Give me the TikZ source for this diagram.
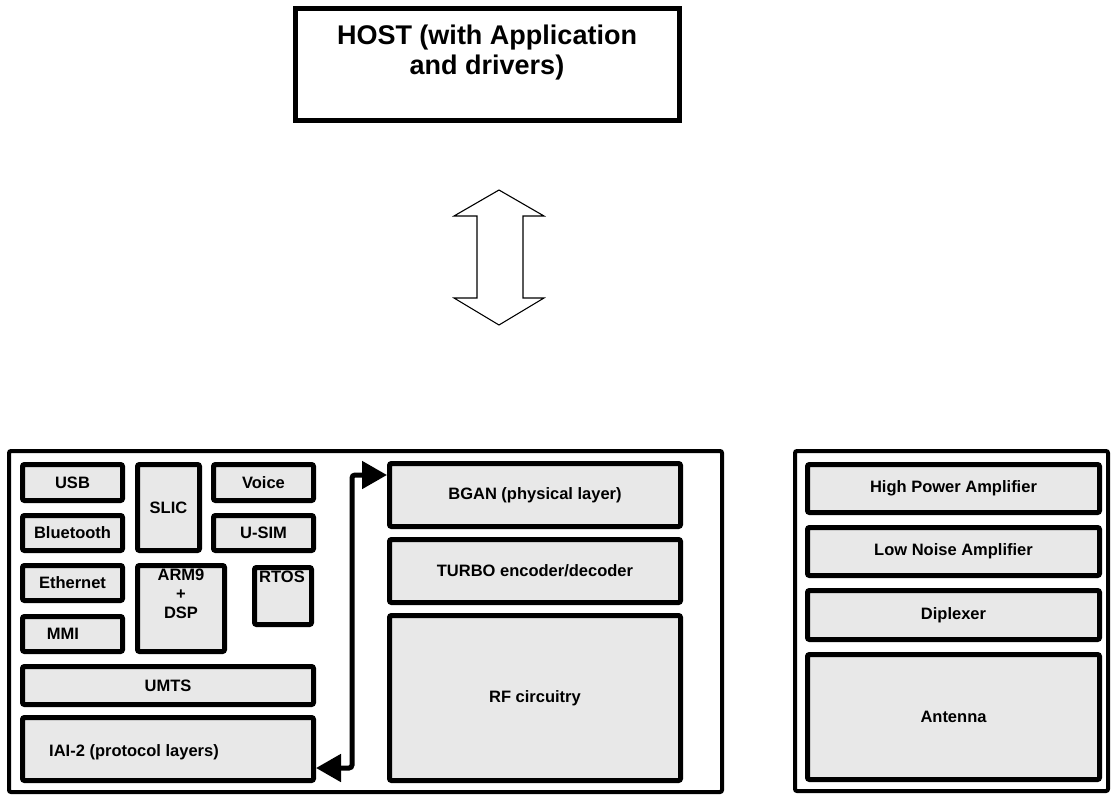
\documentclass[tikz,border=0pt]{standalone}
\usepackage{fontspec}
\setmainfont{Liberation Sans}
\usetikzlibrary{arrows.meta}
\tikzset{
  blk/.style={draw, line width=5pt, rounded corners=2pt, fill=black!9,
    inner sep=0pt, font=\fontsize{16.5}{19}\selectfont\bfseries, align=center},
  frame/.style={draw, line width=4pt, rounded corners=2pt, fill=white, inner sep=0pt},
  hostbox/.style={draw, line width=5pt, fill=white, inner sep=0pt},
  lbl/.style={inner sep=0pt, font=\fontsize{16.5}{19}\selectfont\bfseries, align=center},
  bus/.style={line width=5pt, rounded corners=3pt,
    {Triangle[length=25pt,width=27pt]}-{Triangle[length=25pt,width=27pt]}},
  hollow/.style={draw, line width=1.1pt, fill=white, line join=miter}
}
\begin{document}
\begin{tikzpicture}[x=1pt,y=-1pt]
\useasboundingbox (0,0) rectangle (1112,806);

% host computer
\node[hostbox, minimum width=384pt, minimum height=112pt] (host) at (487.5,64.5) {};
\node[lbl, font=\fontsize{27}{30}\selectfont\bfseries] (hosttext) at (487,53)
  {HOST (with Application\\and drivers)};

% hollow double arrow between host and terminal
\draw[hollow] (499,190) -- (544,216) -- (523,216) -- (523,298) -- (544,298)
  -- (499,325) -- (454,298) -- (477,298) -- (477,216) -- (454,216) -- cycle;

% terminal frames
\node[frame, minimum width=713pt, minimum height=341pt] (term) at (365.5,621.5) {};
\node[frame, minimum width=313pt, minimum height=340pt] (rfu) at (951.5,621) {};

% interfaces and processing
\node[blk, minimum width=100pt, minimum height=36pt] (usb) at (72.5,482.5) {USB};
\node[blk, minimum width=100pt, minimum height=35pt] (bt) at (72.5,533) {Bluetooth};
\node[blk, minimum width=100pt, minimum height=35pt] (eth) at (72.5,583) {Ethernet};
\node[blk, minimum width=100pt, minimum height=35pt] (mmi) at (72.5,634) {};
\node[lbl] (mmitext) at (63,634) {MMI};
\node[blk, minimum width=62pt, minimum height=86pt] (slic) at (168.5,507.5) {SLIC};
\node[blk, minimum width=100pt, minimum height=36pt] (voice) at (263.5,482.5) {Voice};
\node[blk, minimum width=100pt, minimum height=35pt] (usim) at (263.5,533) {U-SIM};
\node[blk, minimum width=87pt, minimum height=86pt] (arm) at (181,608.5) {};
\node[lbl] (armtext) at (181,594) {ARM9\\+\\DSP};
\node[blk, minimum width=57pt, minimum height=57pt] (rtos) at (283,596) {};
\node[lbl] (rtostext) at (282,577) {RTOS};
\node[blk, minimum width=291pt, minimum height=38pt] (umts) at (168,685.5) {UMTS};
\node[blk, minimum width=291pt, minimum height=63pt] (iai) at (168,749) {};
\node[lbl, anchor=west] (iaitext) at (49,752) {IAI-2 (protocol layers)};

% physical layer chain
\node[blk, minimum width=291pt, minimum height=63pt] (bgan) at (535,495) {BGAN (physical layer)};
\node[blk, minimum width=291pt, minimum height=63pt] (turbo) at (535,571) {TURBO encoder/decoder};
\node[blk, minimum width=291pt, minimum height=165pt] (rf) at (535,698) {RF circuitry};

% RF front end
\node[blk, minimum width=292pt, minimum height=48pt] (hpa) at (953.5,488.5) {High Power Amplifier};
\node[blk, minimum width=292pt, minimum height=48pt] (lna) at (953.5,551.5) {Low Noise Amplifier};
\node[blk, minimum width=292pt, minimum height=49pt] (dip) at (953.5,615) {Diplexer};
\node[blk, minimum width=292pt, minimum height=125pt] (ant) at (953.5,717) {Antenna};

% link between protocol and physical layers
\coordinate (bustop) at (352,475);
\coordinate (busbot) at (352,768);
\draw[bus] (iai.east |- busbot) -- (busbot) -- (bustop) -- (bgan.west |- bustop);
\end{tikzpicture}
\end{document}
